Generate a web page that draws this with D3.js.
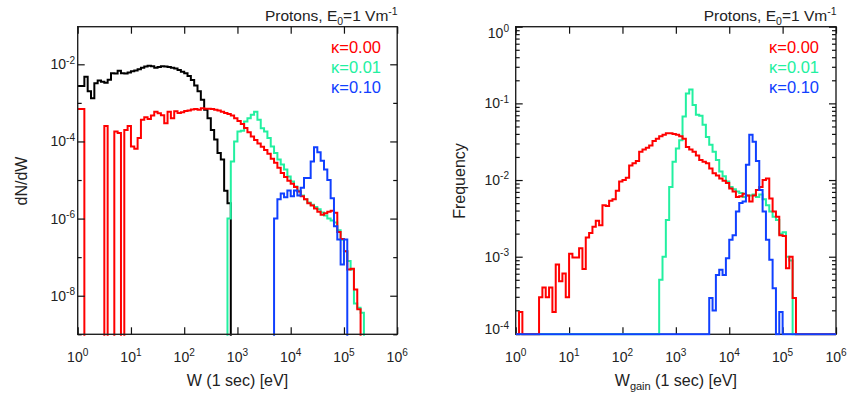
<!DOCTYPE html>
<html><head><meta charset="utf-8">
<script src="https://cdn.jsdelivr.net/npm/d3@7"></script>
<style>
body{margin:0;background:#fff}
svg text{font-family:"Liberation Sans",Arial,Helvetica,sans-serif;fill:#222}
</style>
</head><body>
<svg id="chart" width="847" height="396"></svg>
<script>
// ---------- data (log10 of the bin value; null = empty bin) ----------
// bins are 1/16 decade wide, from 10^0 to 10^6 (96 bins)
const binsPerDecade = 16;
const nBins = 96;

// Left panel: dN/dW vs W
const leftBlackStart = 0;
const leftBlack = [-2.56,-2.56,-2.32,-2.70,-2.88,-2.49,-2.42,-2.45,-2.48,-2.40,-2.23,-2.24,-2.17,-2.23,-2.24,-2.21,
  -2.18,-2.16,-2.13,-2.09,-2.06,-2.04,-2.05,-2.09,-2.07,-2.05,-2.06,-2.07,-2.09,-2.11,-2.15,-2.19,
  -2.23,-2.30,-2.41,-2.55,-2.70,-2.92,-3.18,-3.40,-3.70,-3.95,-4.30,-4.47,-5.28,-5.60];
const leftRedStart = 0;
const leftRed = [-3.16,-3.16,null,null,null,null,null,null,-3.60,null,null,-3.74,-3.78,null,-3.70,-3.60,
  -4.13,-4.19,-3.91,-3.44,-3.37,-3.42,-3.33,-3.23,-3.27,-3.32,-3.53,-3.23,-3.40,-3.22,-3.26,-3.24,
  -3.21,-3.20,-3.17,-3.16,-3.18,-3.14,-3.15,-3.15,-3.16,-3.18,-3.20,-3.23,-3.26,-3.29,-3.33,-3.40,
  -3.47,-3.55,-3.65,-3.76,-3.87,-3.96,-4.05,-4.14,-4.22,-4.32,-4.45,-4.55,-4.68,-4.82,-4.92,-5.02,
  -5.10,-5.18,-5.30,-5.42,-5.50,-5.60,-5.66,-5.74,-5.82,-5.90,-5.86,-5.82,-5.80,-5.85,-6.35,-6.53,
  -6.85,-7.32,-7.30,-7.84,-8.35];
const leftGreenStart = 45;
const leftGreen = [-6.00,-4.52,-4.00,-3.74,-3.72,-3.48,-3.40,-3.31,-3.23,-3.44,-3.66,-3.74,-3.91,-4.13,-4.30,
  -4.47,-4.60,-4.73,-4.91,-5.04,-5.17,-5.28,-5.40,-5.50,-5.58,-5.64,-5.70,-5.76,-5.84,-5.92,
  -6.00,-6.05,-6.10,-6.30,-6.55,-6.85,-7.10,-7.32,-8.20,-8.31,-8.44];
const leftBlueStart = 59;
const leftBlue = [-6.00,-5.50,-5.35,-5.45,-5.27,-5.42,-5.27,-5.40,-5.20,-4.95,-4.95,-4.52,-4.15,-4.28,-4.50,
  -4.73,-5.00,-5.47,-6.20,-6.54,-7.19,-6.54];

// Right panel: Frequency vs W_gain
const rightRedStart = 0;
const rightRed = [null,-3.72,null,null,null,null,null,-3.53,-3.40,-3.53,-3.40,-3.72,-3.10,-3.32,-3.22,-3.53,
  -2.96,-3.01,-3.01,-2.89,-3.16,-2.75,-2.69,-2.61,-2.53,-2.59,-2.33,-2.34,-2.27,-2.25,-2.14,-2.02,
  -2.00,-1.97,-1.81,-1.78,-1.75,-1.63,-1.60,-1.58,-1.55,-1.49,-1.46,-1.43,-1.41,-1.39,-1.39,-1.40,
  -1.41,-1.43,-1.46,-1.57,-1.60,-1.63,-1.68,-1.74,-1.76,-1.78,-1.85,-1.91,-1.94,-1.98,-2.01,-2.04,
  -2.11,-2.15,-2.22,-2.21,-2.18,-2.20,-2.28,-2.20,-2.13,-2.09,-2.00,-1.98,-2.24,-2.41,-2.48,-2.72,
  -2.73,-3.15,-3.00,-3.54];
const rightGreenStart = 43;
const rightGreen = [-3.30,-3.00,-2.52,-2.09,-1.76,-1.59,-1.48,-1.17,-0.87,-0.82,-1.02,-1.15,-1.16,-1.28,-1.44,
  -1.54,-1.63,-1.74,-1.89,-1.95,-2.02,-2.09,-2.12,-2.15,-2.17,-2.22,-2.20,-2.20,-2.19,-2.22,
  -2.19,-2.25,-2.33,-2.41,-2.48,-2.52,-2.70,-2.68,-3.00,-3.05];
const rightBlueStart = 58;
const rightBlue = [-3.54,-3.70,-3.24,-3.17,-3.24,-3.02,-2.78,-2.72,-2.41,-2.30,-2.28,-1.80,-1.41,-1.50,-1.75,
  -2.13,-2.41,-2.78,-3.04,-3.41,null,-3.72];

// tick labels
const xTickExps = [0,1,2,3,4,5,6];
const leftYMajorExps = [-8,-6,-4,-2];
const leftYMinorExps = [-9,-7,-5,-3];
const rightYMajorExps = [-4,-3,-2,-1,0];

const legendLabels = ["\u03BA=0.00","\u03BA=0.01","\u03BA=0.10"];
const colors = {red:"#ff0000", green:"#22f0a0", blue:"#1040ff", black:"#000000"};

// ---------- layout ----------
const svg = d3.select("#chart");
const panels = [
  {left:77.7, right:397.2, top:26.7, bottom:334.3, yDomain:[1e-9, 0.0944], nullMode:"below",
   yMajor:leftYMajorExps, yMinor:leftYMinorExps.map(e=>Math.pow(10,e)), labelX:75,
   ytitle:"dN/dW", ytitleX:26.5, xtitle:[["W",null],[" (1 sec) [eV]",null]],
   series:[[leftBlackStart,leftBlack,colors.black],[leftGreenStart,leftGreen,colors.green],
           [leftRedStart,leftRed,colors.red],[leftBlueStart,leftBlue,colors.blue]],
   legendX:381, dataOnTop:false},
  {left:515.7, right:836, top:26.7, bottom:334.3, yDomain:[9.73e-5, 1], nullMode:"floor",
   yMajor:rightYMajorExps, yMinor:null, labelX:509,
   ytitle:"Frequency", ytitleX:465, xtitle:[["W",null],["gain","sub"],[" (1 sec) [eV]",null]],
   series:[[rightGreenStart,rightGreen,colors.green],[rightRedStart,rightRed,colors.red],
           [rightBlueStart,rightBlue,colors.blue]],
   legendX:819, dataOnTop:true}
];

const edges = d3.range(nBins+1).map(i => Math.pow(10, i/binsPerDecade));

function fullPoints(start, vals){
  const pts = [];
  for(let i=0;i<nBins;i++){
    const k = i - start;
    const v = (k>=0 && k<vals.length) ? vals[k] : null;
    pts.push([edges[i], v],[edges[i+1], v]);
  }
  return pts;
}

function supText(g, x, y, anchor, size, parts){
  const t = g.append("text").attr("x",x).attr("y",y).attr("text-anchor",anchor).attr("font-size",size);
  parts.forEach(([s,mode])=>{
    const ts = t.append("tspan").text(s);
    if(mode==="sup"){ ts.attr("font-size",size*0.72).attr("dy",-size*0.4); }
    else if(mode==="sub"){ ts.attr("font-size",size*0.72).attr("dy",size*0.3); }
    else if(mode==="supEnd"){ ts.attr("font-size",size*0.72).attr("dy",size*0.4); }
  });
  return t;
}

panels.forEach((p, pi)=>{
  const g = svg.append("g");
  const x = d3.scaleLog().domain([1,1e6]).range([p.left,p.right]);
  const y = d3.scaleLog().domain(p.yDomain).range([p.bottom,p.top]);
  const clipId = "clip"+pi;
  svg.append("defs").append("clipPath").attr("id",clipId).append("rect")
    .attr("x",p.left).attr("y",p.top-2).attr("width",p.right-p.left).attr("height",p.bottom-p.top+3.5);

  const frame = ()=>{
    g.append("rect").attr("x",p.left).attr("y",p.top).attr("width",p.right-p.left).attr("height",p.bottom-p.top)
      .attr("fill","none").attr("stroke","#222").attr("stroke-width",1.4);
    const xv = xTickExps.map(e=>Math.pow(10,e));
    const ax = [
      [d3.axisBottom(x).tickValues(xv).tickSize(-7).tickFormat(""), p.bottom, "x"],
      [d3.axisTop(x).tickValues(xv).tickSize(-7).tickFormat(""), p.top, "x"]
    ];
    ax.forEach(([a,pos])=>{
      const ag = g.append("g").attr("transform",`translate(0,${pos})`).call(a);
      ag.select(".domain").remove();
      ag.selectAll("line").attr("stroke","#111").attr("stroke-width",1.2);
    });
    const yMaj = p.yMajor.map(e=>Math.pow(10,e));
    let yMin = p.yMinor;
    if(!yMin){
      yMin = [];
      for(let d=-5; d<0; d++) for(let k=2;k<=9;k++){ const v=k*Math.pow(10,d); if(v>=p.yDomain[0] && v<=p.yDomain[1]) yMin.push(v); }
    }
    [[d3.axisLeft(y), p.left],[d3.axisRight(y), p.right]].forEach(([mk,pos])=>{
      const a1 = g.append("g").attr("transform",`translate(${pos},0)`)
        .call(mk.tickValues(yMaj).tickSize(-7).tickFormat(""));
      a1.select(".domain").remove();
      a1.selectAll("line").attr("stroke","#111").attr("stroke-width",1.2);
    });
    [[d3.axisLeft(y), p.left],[d3.axisRight(y), p.right]].forEach(([mk,pos])=>{
      const a2 = g.append("g").attr("transform",`translate(${pos},0)`)
        .call(mk.tickValues(yMin).tickSize(-4).tickFormat(""));
      a2.select(".domain").remove();
      a2.selectAll("line").attr("stroke","#111").attr("stroke-width",1.2);
    });
  };

  const data = ()=>{
    const nullY = p.nullMode==="below" ? p.bottom+8 : p.bottom;
    const line = d3.line().x(d=>x(d[0])).y(d=> d[1]===null ? nullY : y(Math.pow(10,d[1])));
    const dg = g.append("g").attr("clip-path",`url(#${clipId})`);
    p.series.forEach(([start, vals, col])=>{
      dg.append("path").attr("d", line(fullPoints(start, vals)))
        .attr("fill","none").attr("stroke",col).attr("stroke-width",2).attr("stroke-linejoin","miter");
    });
  };

  if(p.dataOnTop){ frame(); data(); } else { data(); frame(); }

  // x tick labels
  xTickExps.forEach(e=>{
    supText(g, x(Math.pow(10,e)), 362, "middle", 14, [["10",null],[String(e),"sup"]]);
  });
  // y tick labels
  p.yMajor.forEach(e=>{
    let cy = y(Math.pow(10,e));
    cy = Math.max(p.top+6, Math.min(p.bottom-5, cy));
    supText(g, p.labelX, cy+5, "end", 14, [["10",null],[e===0?"0":"-"+Math.abs(e),"sup"]]);
  });

  // axis titles
  const xt = g.append("text").attr("x",(p.left+p.right)/2).attr("y",386).attr("text-anchor","middle").attr("font-size",16);
  p.xtitle.forEach(([s,mode])=>{
    const ts = xt.append("tspan").text(s);
    if(mode==="sub"){ ts.attr("font-size",11).attr("dy",4); }
    else if(xt.selectAll("tspan").size()>1 && p.xtitle.some(q=>q[1]==="sub")){ ts.attr("dy",-4); }
  });
  g.append("text").attr("transform",`translate(${p.ytitleX},181) rotate(-90)`)
    .attr("text-anchor","middle").attr("font-size",16).text(p.ytitle);

  // top title
  const tt = g.append("text").attr("x",p.right+0.5).attr("y",20.5).attr("text-anchor","end").attr("font-size",15.5);
  tt.append("tspan").text("Protons, E");
  tt.append("tspan").text("0").attr("font-size",10.5).attr("dy",4);
  tt.append("tspan").text("=1 Vm").attr("dy",-4);
  tt.append("tspan").text("-1").attr("font-size",10.5).attr("dy",-6);

  // legend
  legendLabels.forEach((lab,i)=>{
    g.append("text").attr("x",p.legendX).attr("y",52.7+20.3*i).attr("text-anchor","end")
      .attr("font-size",16.5).style("fill",[colors.red,colors.green,colors.blue][i]).text(lab);
  });
});
</script>
</body></html>
